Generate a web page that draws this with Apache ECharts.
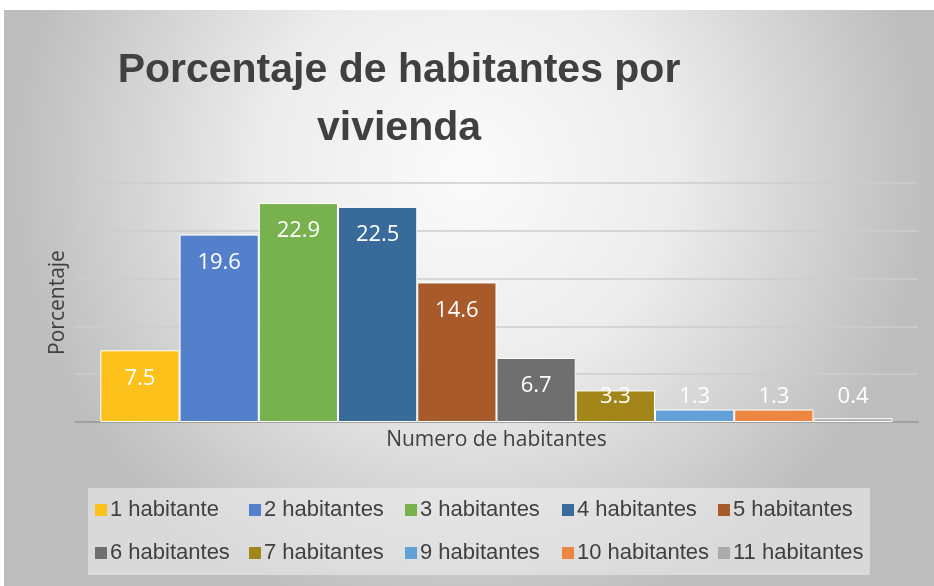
<!DOCTYPE html>
<html><head><meta charset="utf-8">
<script src="https://cdn.jsdelivr.net/npm/echarts@6/dist/echarts.min.js"></script>
<style>html,body{margin:0;padding:0;background:#fff}#c{width:934px;height:586px}</style>
</head><body><div id="c"></div>
<script>
const titleText = 'Porcentaje de habitantes por\nvivienda';
const categories = ['1 habitante','2 habitantes','3 habitantes','4 habitantes','5 habitantes','6 habitantes','7 habitantes','9 habitantes','10 habitantes','11 habitantes'];
const values = [7.5, 19.6, 22.9, 22.5, 14.6, 6.7, 3.3, 1.3, 1.3, 0.4];
const colors = ['#FCC21B','#5480CB','#78B24F','#386A9A','#A85A2B','#6F6F6F','#A38619','#62A0D8','#EC8641','#ABABAB'];
const yAxisName = 'Porcentaje';
const xAxisName = 'Numero de habitantes';

const chart = echarts.init(document.getElementById('c'), null, {renderer:'canvas'});
const series = categories.map((name, i) => ({
  name: name,
  type: 'bar',
  data: [values[i]],
  barGap: '0%',
  barCategoryGap: '6%',
  itemStyle: {color: colors[i], borderColor: '#ffffff', borderWidth: 1},
  label: {
    show: true,
    position: values[i] >= 5 ? 'insideTop' : 'insideBottom',
    distance: values[i] >= 5 ? 17 : 14,
    color: '#ffffff',
    fontFamily: 'Open Sans',
    fontSize: 22,
    formatter: '{c}'
  }
}));

// legend layout: 5 columns x 2 rows
const legendCols = [95, 249, 405, 562, 718];
const legendRows = [499, 542];
const legends = categories.map((name, i) => ({
  left: legendCols[i % 5], top: legendRows[Math.floor(i / 5)],
  itemWidth: 12, itemHeight: 12, icon: 'rect', padding: 0,
  itemStyle: {borderWidth: 0},
  textStyle: {fontFamily: 'Liberation Sans', fontSize: 22, color: '#404040', padding: [0, 0, 0, -2]},
  data: [name]
}));

chart.setOption({
  animation: false,
  color: colors,
  graphic: [{
    type: 'rect', z: -10, silent: true,
    shape: {x: 4, y: 10, width: 930, height: 576},
    style: {
      fill: new echarts.graphic.RadialGradient(0.5, 0.28, 0.8, [
        {offset: 0, color: '#fbfbfb'},
        {offset: 0.45, color: '#ececec'},
        {offset: 1, color: '#bdbdbd'}
      ])
    }
  }, {
    type: 'rect', z: -9, silent: true,
    shape: {x: 88, y: 488, width: 782, height: 87},
    style: {fill: 'rgba(240,240,240,0.55)'}
  }],
  title: {
    text: titleText,
    left: 394, top: 37, textAlign: 'center',
    textStyle: {fontFamily: 'Liberation Sans', fontWeight: 'bold', fontSize: 41, color: '#404040', lineHeight: 58}
  },
  grid: {left: 75, right: 16, top: 183, bottom: 164},
  xAxis: {
    type: 'category', data: [''],
    name: xAxisName, nameLocation: 'middle', nameGap: 8,
    nameTextStyle: {fontFamily: 'Open Sans', fontSize: 21, color: '#404040'},
    axisLine: {show: true, lineStyle: {color: '#a0a0a0', width: 2}},
    axisTick: {show: false}, axisLabel: {show: false}
  },
  yAxis: {
    type: 'value', min: 0, max: 25, interval: 5,
    name: yAxisName, nameLocation: 'middle', nameGap: 6,
    nameTextStyle: {fontFamily: 'Open Sans', fontSize: 21, color: '#404040'},
    axisLine: {show: false}, axisTick: {show: false}, axisLabel: {show: false},
    splitLine: {lineStyle: {color: '#cdcdcd', width: 1.5}}
  },
  legend: legends,
  series: series
});
</script></body></html>
